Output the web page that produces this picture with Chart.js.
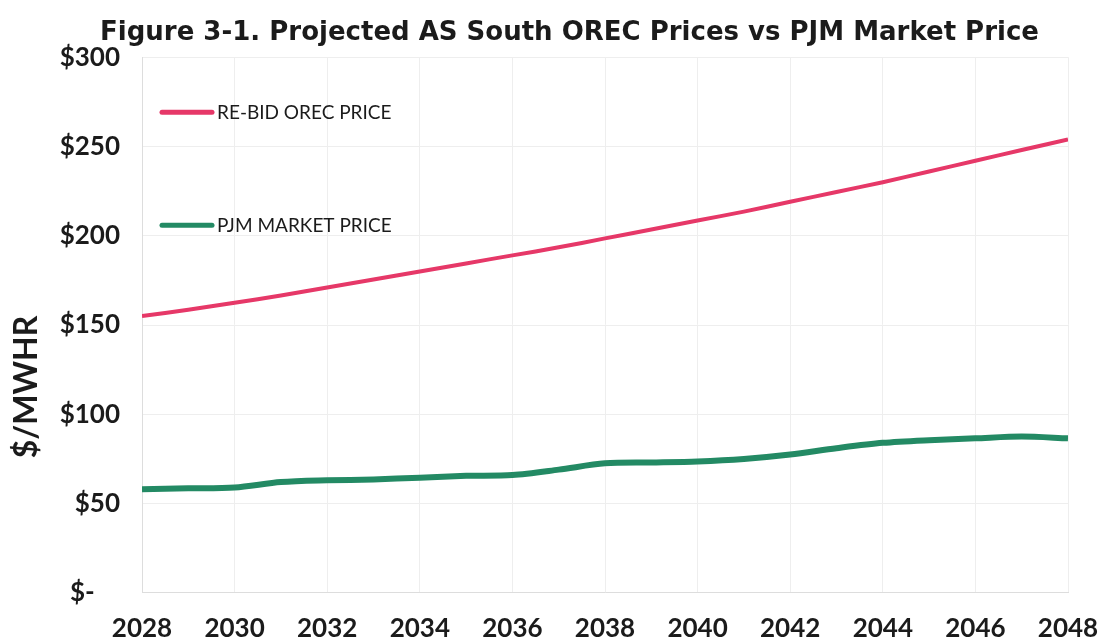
<!DOCTYPE html>
<html>
<head>
<meta charset="utf-8">
<script src="https://cdn.jsdelivr.net/npm/chart.js@4.4.1/dist/chart.umd.min.js"></script>
<style>
  html, body { margin: 0; padding: 0; background: #fff; }
</style>
</head>
<body>
<canvas id="orecChart" width="1101" height="642"></canvas>
<script>
// values ($/MWh)
const years = [2028, 2029, 2030, 2031, 2032, 2033, 2034, 2035, 2036, 2037, 2038,
               2039, 2040, 2041, 2042, 2043, 2044, 2045, 2046, 2047, 2048];
const rebidOrecPrice = [155, 158.5, 162.5, 166.5, 171, 175.5, 180, 184.5, 189, 193.5, 198.5,
                        203.5, 208.5, 213.5, 219, 224.5, 230, 236, 242, 248, 254];
const pjmMarketPrice = [58, 58.5, 59, 62, 63, 63.5, 64.5, 65.5, 66, 69, 72.5,
                        73, 73.6, 75, 77.5, 81, 84, 85.5, 86.5, 87.5, 86.5];
const seriesNames = ["RE-BID OREC PRICE", "PJM MARKET PRICE"];
const yTickValues = [0, 50, 100, 150, 200, 250, 300];

const textColor = "#1b1b1b";
const gridColor = "#eeeeee";

// line + label drawn inside the plot, like the original inline legend
const inlineLegend = {
  id: "inlineLegend",
  afterDatasetsDraw(chart) {
    const { ctx, chartArea } = chart;
    const rows = [55, 168]; // px below the top of the plot area
    ctx.save();
    chart.data.datasets.forEach((ds, i) => {
      const y = chartArea.top + rows[i];
      const x0 = chartArea.left + 20;
      ctx.strokeStyle = ds.borderColor;
      ctx.lineWidth = 5;
      ctx.lineCap = "round";
      ctx.beginPath();
      ctx.moveTo(x0, y);
      ctx.lineTo(x0 + 50, y);
      ctx.stroke();
      ctx.fillStyle = textColor;
      ctx.font = "19px Lato";
      ctx.textBaseline = "middle";
      ctx.fillText(ds.label, x0 + 55, y + 1);
    });
    ctx.restore();
  }
};

// y axis title sits lower than centre in the original
const yAxisTitle = {
  id: "yAxisTitle",
  afterDraw(chart) {
    const { ctx } = chart;
    ctx.save();
    ctx.translate(27, 387);
    ctx.rotate(-Math.PI / 2);
    ctx.fillStyle = textColor;
    ctx.font = "bold 32px Lato";
    ctx.textAlign = "center";
    ctx.textBaseline = "middle";
    ctx.fillText("$/MWHR", 0, 0);
    ctx.restore();
  }
};

const ctx = document.getElementById("orecChart");
new Chart(ctx, {
  type: "line",
  data: {
    datasets: [{
      label: seriesNames[0],
      data: years.map((yr, i) => ({ x: yr, y: rebidOrecPrice[i] })),
      borderColor: "#e63868",
      borderWidth: 4,
      pointRadius: 0,
      tension: 0.3
    }, {
      label: seriesNames[1],
      data: years.map((yr, i) => ({ x: yr, y: pjmMarketPrice[i] })),
      borderColor: "#238a64",
      borderWidth: 6,
      pointRadius: 0,
      tension: 0.3
    }]
  },
  options: {
    responsive: false,
    animation: false,
    devicePixelRatio: 1,
    layout: { padding: { left: 38, right: 0, top: 0, bottom: -22 } },
    plugins: {
      legend: { display: false },
      tooltip: { enabled: false },
      title: {
        display: true,
        text: "Figure 3-1. Projected AS South OREC Prices vs PJM Market Price",
        color: textColor,
        font: { family: "DejaVu Sans", weight: "bold", size: 26 },
        padding: { top: 18, bottom: 8 }
      }
    },
    scales: {
      x: {
        type: "linear",
        min: years[0],
        max: years[years.length - 1],
        afterFit: axis => { axis.paddingRight = 33; },
        ticks: {
          stepSize: 2,
          color: textColor,
          padding: 20,
          font: { family: "Lato", weight: "bold", size: 26 },
          callback: v => String(v)
        },
        grid: { color: gridColor, drawTicks: false },
        border: { color: "#dddddd" }
      },
      y: {
        min: 0,
        max: 300,
        afterBuildTicks: axis => { axis.ticks = yTickValues.map(v => ({ value: v })); },
        afterFit: axis => { axis.width = 104; },
        ticks: {
          color: textColor,
          padding: 22,
          font: { family: "Lato", weight: "bold", size: 26 },
          callback: v => v === 0 ? "$-    " : "$" + v
        },
        grid: { color: gridColor, drawTicks: false },
        border: { color: "#dddddd" }
      }
    }
  },
  plugins: [inlineLegend, yAxisTitle]
});
</script>
</body>
</html>
